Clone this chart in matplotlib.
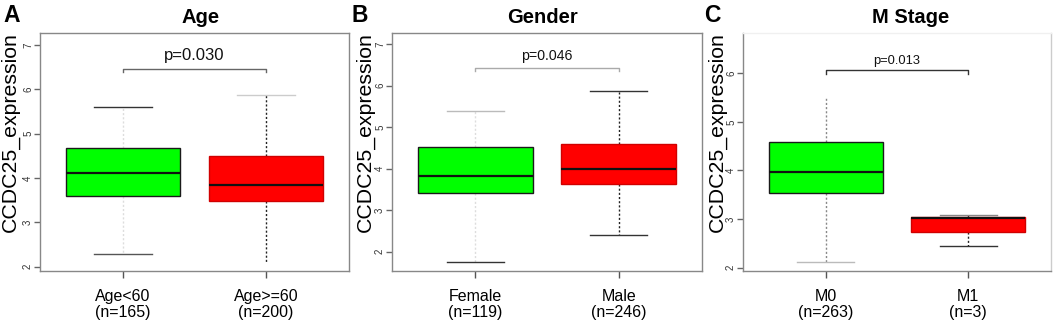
import matplotlib
matplotlib.use('Agg')
import matplotlib.pyplot as plt

plt.rcParams['font.family'] = ['Liberation Sans', 'DejaVu Sans']

# panel data
titles = ['Age', 'Gender', 'M Stage']
letters = ['A', 'B', 'C']
groups = [['Age<60', 'Age>=60'], ['Female', 'Male'], ['M0', 'M1']]
counts = [[165, 200], [119, 246], [263, 3]]
p_values = ['p=0.030', 'p=0.046', 'p=0.013']

# box stats per panel: [low whisker, q1, median, q3, high whisker]
age_stats = [[2.28, 3.59, 4.11, 4.67, 5.59], [2.08, 3.48, 3.83, 4.49, 5.86]]
gender_stats = [[1.75, 3.41, 3.83, 4.52, 5.40], [2.41, 3.63, 4.00, 4.59, 5.87]]
mstage_stats = [[2.11, 3.54, 3.97, 4.59, 5.52], [2.45, 2.74, 3.03, 3.05, 3.09]]
all_stats = [age_stats, gender_stats, mstage_stats]

bracket_y = [6.46, 6.43, 6.07]
yticks = [[2, 3, 4, 5, 6, 7], [2, 3, 4, 5, 6, 7], [2, 3, 4, 5, 6]]

# layout / style
W, H = 1053, 323
ax_left = [40, 392, 743]
ax_width = [309, 310, 308]
ylims = [(1.90, 7.27), (1.53, 7.27), (1.93, 6.83)]
title_x = [0.52, 0.487, 0.545]
letter_x = [12, 360, 712]
ylab_x = [-0.097, -0.087, -0.084]
p_size = [12, 10.2, 9.3]
p_gap = [0.14, 0.11, 0.06]
bracket_drop = [0.07, 0.08, 0.08]
bracket_col = ['#666666', '#aaaaaa', '#333333']
box_colors = ['#00ff00', '#ff0000']
box_edges = ['#1a1a1a', '#d00000']
whisk_cols = [['#dddddd', '#222222'], ['#dddddd', '#222222'], ['#888888', '#222222']]
cap_cols = [[['#555555', '#333333'], ['#ffffff', '#cccccc']],
            [['#333333', '#bbbbbb'], ['#333333', '#333333']],
            [['#bbbbbb', '#ffffff'], ['#333333', '#888888']]]

fig = plt.figure(figsize=(W / 100, H / 100), dpi=100)

for i in range(3):
    ax = fig.add_axes([ax_left[i] / W, 52 / H, ax_width[i] / W, 238 / H])
    stats = []
    for j, s in enumerate(all_stats[i]):
        stats.append({'whislo': s[0], 'q1': s[1], 'med': s[2], 'q3': s[3],
                      'whishi': s[4], 'fliers': []})
    bp = ax.bxp(stats, positions=[1, 2], widths=0.8, patch_artist=True,
                showfliers=False,
                medianprops=dict(color='#111111', linewidth=1.6))
    for j in range(2):
        bp['boxes'][j].set_facecolor(box_colors[j])
        bp['boxes'][j].set_edgecolor(box_edges[j])
        bp['boxes'][j].set_linewidth(1.0)
        for k in range(2):
            w = bp['whiskers'][2 * j + k]
            w.set_color(whisk_cols[i][j])
            w.set_linestyle((0, (1.5, 1.5)))
            w.set_linewidth(1.0)
            c = bp['caps'][2 * j + k]
            c.set_color(cap_cols[i][j][k])
            c.set_linewidth(1.0)
            c.set_xdata([1 + j - 0.2, 1 + j + 0.2])
        bp['whiskers'][2 * j].set_zorder(0.5)
        bp['whiskers'][2 * j + 1].set_zorder(0.5)

    ax.set_xlim(0.42, 2.58)
    ax.set_ylim(*ylims[i])
    ax.set_yticks(yticks[i])
    ax.set_xticks([1, 2])
    ax.set_xticklabels([f'{g}\n(n={n})' for g, n in zip(groups[i], counts[i])],
                       fontsize=11.5, linespacing=1.05)
    ax.tick_params(axis='x', length=5, width=1, color='#555555', pad=8)
    ax.tick_params(axis='y', length=4, width=1, color='#666666', pad=1,
                   labelsize=7, labelcolor='#333333', labelrotation=90)
    for t in ax.get_yticklabels():
        t.set_va('center')
    for sp in ax.spines.values():
        sp.set_color('#888888')
        sp.set_linewidth(1.0)
    if i == 2:
        ax.spines['top'].set_color('#f0f0f0')
        ax.spines['right'].set_color('#cccccc')

    # significance bracket
    by = bracket_y[i]
    ax.plot([1, 1, 2, 2], [by - bracket_drop[i], by, by, by - bracket_drop[i]],
            color=bracket_col[i], linewidth=1.0)
    ax.text(1.5, by + p_gap[i], p_values[i], ha='center', va='bottom',
            fontsize=p_size[i], color='#111111')

    ax.text(ylab_x[i], 0.583, 'CCDC25_expression', transform=ax.transAxes,
            rotation=90, ha='center', va='center', fontsize=15.3)
    ax.text(title_x[i], 1.067, titles[i], transform=ax.transAxes,
            ha='center', va='center', fontsize=14.5, fontweight='bold')
    fig.text(letter_x[i] / W, 1 - 16 / H, letters[i], ha='center', va='center',
             fontsize=16.5, fontweight='bold')

fig.savefig('out.png', dpi=100)
